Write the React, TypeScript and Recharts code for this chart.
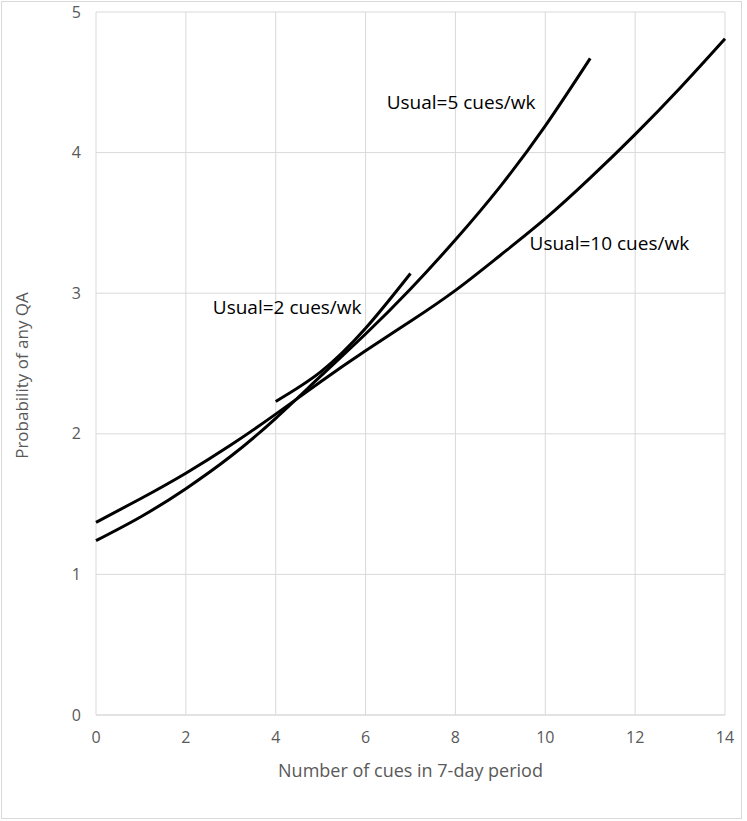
import React from "react";
import { LineChart, Line, XAxis, YAxis, CartesianGrid, ReferenceDot } from "recharts";

const cues = [0, 1, 2, 3, 4, 5, 6, 7, 8, 9, 10, 11, 12, 13, 14];
const usual2 = [null, null, null, null, 2.23, 2.44, 2.75, 3.14, null, null, null, null, null, null, null];
const usual5 = [1.24, 1.41, 1.61, 1.84, 2.11, 2.41, 2.71, 3.03, 3.38, 3.76, 4.19, 4.67, null, null, null];
const usual10 = [1.37, 1.54, 1.72, 1.92, 2.14, 2.37, 2.59, 2.8, 3.02, 3.27, 3.53, 3.82, 4.13, 4.46, 4.81];

const xTicks = [0, 2, 4, 6, 8, 10, 12, 14];
const yTicks = [0, 1, 2, 3, 4, 5];

const label2 = "Usual=2 cues/wk";
const label5 = "Usual=5 cues/wk";
const label10 = "Usual=10 cues/wk";

const rows = cues.map((c, i) => ({
  cues: c,
  u2: usual2[i],
  u5: usual5[i],
  u10: usual10[i],
}));

const font = "'Open Sans', sans-serif";
const gray = "#595959";

// text placed at a data point, left-aligned, vertically centred
const noteLabel = (text: string) => (props: any) => {
  const { viewBox } = props;
  return (
    <text
      x={viewBox.x}
      y={viewBox.y}
      dominantBaseline="central"
      fontFamily={font}
      fontSize={19}
      fill="#000"
    >
      {text}
    </text>
  );
};

export default function App() {
  return (
    <div style={{ position: "absolute", left: 0, top: 0, width: 747, height: 821, background: "#fff" }}>
      <div
        style={{
          position: "absolute",
          left: 1,
          top: 1,
          width: 741,
          height: 818,
          border: "1px solid #d9d9d9",
          boxSizing: "border-box",
        }}
      />
      <LineChart
        width={747}
        height={821}
        data={rows}
        margin={{ top: 12, right: 22, left: 0, bottom: 44 }}
      >
        <CartesianGrid stroke="#d9d9d9" strokeWidth={1} />
        <XAxis
          dataKey="cues"
          type="number"
          domain={[0, 14]}
          ticks={xTicks}
          height={62}
          tickLine={false}
          tickSize={0}
          tickMargin={17}
          axisLine={{ stroke: "#d9d9d9" }}
          tick={{ fill: gray, fontSize: 16, fontFamily: font }}
          label={{
            value: "Number of cues in 7-day period",
            position: "insideBottom",
            offset: 0,
            fill: gray,
            fontSize: 18,
            fontFamily: font,
          }}
        />
        <YAxis
          type="number"
          domain={[0, 5]}
          ticks={yTicks}
          width={96}
          tickLine={false}
          axisLine={false}
          tickSize={0}
          tickMargin={15}
          tick={{ fill: gray, fontSize: 16, fontFamily: font }}
          label={{
            value: "Probability of any QA",
            angle: -90,
            position: "insideLeft",
            offset: 22,
            dy: 12,
            style: { textAnchor: "middle" },
            fill: gray,
            fontSize: 17,
            fontFamily: font,
          }}
        />
        <Line type="natural" dataKey="u2" stroke="#000" strokeWidth={3} dot={false} isAnimationActive={false} />
        <Line type="natural" dataKey="u5" stroke="#000" strokeWidth={3} dot={false} isAnimationActive={false} />
        <Line type="natural" dataKey="u10" stroke="#000" strokeWidth={3} dot={false} isAnimationActive={false} />
        <ReferenceDot x={2.6} y={2.9} r={0} fill="none" stroke="none" label={noteLabel(label2)} />
        <ReferenceDot x={6.47} y={4.36} r={0} fill="none" stroke="none" label={noteLabel(label5)} />
        <ReferenceDot x={9.65} y={3.36} r={0} fill="none" stroke="none" label={noteLabel(label10)} />
      </LineChart>
    </div>
  );
}
